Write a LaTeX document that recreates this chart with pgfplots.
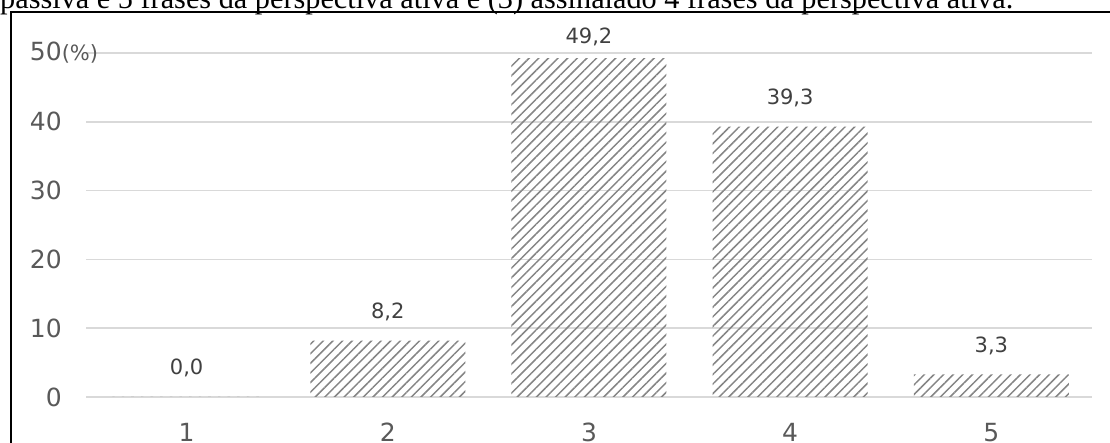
\documentclass[border=0pt]{standalone}
\usepackage{fontspec}
\setmainfont{DejaVu Sans}
\newfontfamily\seriffont{Liberation Serif}
\usepackage{pgfplots}
\pgfplotsset{compat=1.18}
\usetikzlibrary{patterns.meta}
\definecolor{gridc}{HTML}{D9D9D9}
\definecolor{tickc}{HTML}{595959}
\definecolor{labc}{HTML}{404040}
\definecolor{hatchc}{HTML}{858585}
\begin{document}
\begin{tikzpicture}[x=1pt,y=1pt]
\useasboundingbox (0,0) rectangle (1110,443);
\clip (0,0) rectangle (1110,443);
\node[anchor=base west, inner sep=0pt] at (0,434) {\resizebox{1013pt}{!}{\seriffont\fontsize{25}{25}\selectfont passiva e 5 frases da perspectiva ativa e (3) assinalado 4 frases da perspectiva ativa.}};
\draw[line width=2pt] (10.5,-5) -- (10.5,430.5) -- (1115,430.5);
\begin{axis}[
  at={(86pt,46pt)}, anchor=south west,
  scale only axis, width=1006pt, height=344pt,
  xmin=0.5, xmax=5.5, ymin=0, ymax=50,
  axis line style={draw=none},
  major tick length=0pt,
  ymajorgrids, grid style={gridc, line width=1.6pt},
  xtick={1,2,3,4,5}, xticklabels={1,2,3,4,5},
  ytick={0,10,20,30,40,50},
  yticklabels={0,10,20,30,40,{50\rlap{\fontsize{21}{21}\selectfont(\%)}}},
  ticklabel style={font=\fontsize{25}{25}\selectfont, text=tickc, inner sep=0pt},
  xticklabel style={anchor=north, yshift=-26pt},
  yticklabel style={anchor=east, xshift=-24pt},
  /pgf/number format/assume math mode=true,
  /pgf/number format/fixed,
  /pgf/number format/fixed zerofill,
  /pgf/number format/precision=1,
  /pgf/number format/use comma,
  ybar, bar width=155pt, bar shift=0pt,
  nodes near coords,
  nodes near coords style={font=\fontsize{21}{21}\selectfont, text=labc, anchor=base, inner sep=0pt},
  clip=false,
]
\addplot[draw=none, pattern={Lines[angle=45,distance=6.8pt,line width=1.5pt]}, pattern color=hatchc,
  nodes near coords style={yshift=22pt}]
  coordinates {(1,0.0) (2,8.2) (4,39.3) (5,3.3)};
\addplot[draw=none, pattern={Lines[angle=45,distance=6.8pt,line width=1.5pt]}, pattern color=hatchc,
  nodes near coords style={yshift=15.5pt}]
  coordinates {(3,49.2)};
\end{axis}
\end{tikzpicture}
\end{document}
